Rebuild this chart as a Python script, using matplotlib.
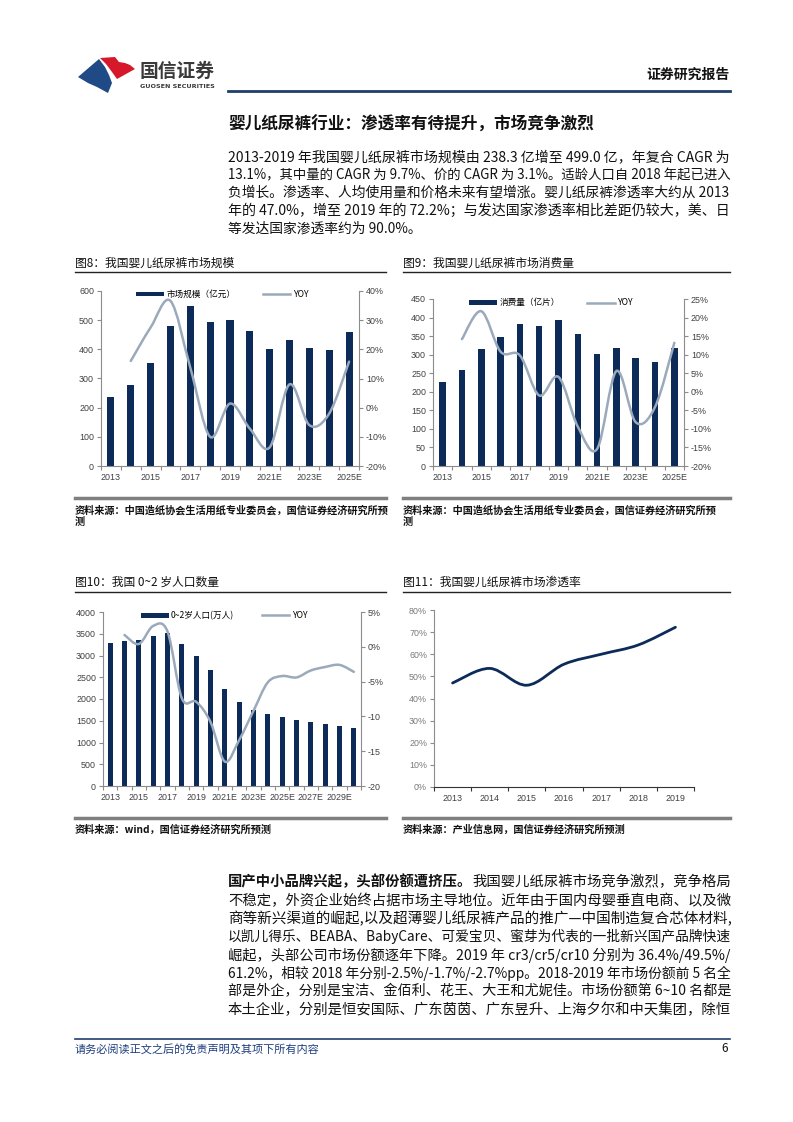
import numpy as np
import matplotlib.pyplot as plt
from matplotlib.path import Path
from matplotlib.patches import PathPatch, Polygon, Rectangle
from matplotlib.lines import Line2D

plt.rcParams['font.family'] = ['Noto Sans CJK SC', 'DejaVu Sans']

W, H = 793, 1122

# ---- data read from the page ----
years_a = ['2013', '2014', '2015', '2016', '2017', '2018', '2019', '2020',
           '2021E', '2022E', '2023E', '2024E', '2025E']
market_size = [238, 276, 352, 481, 547, 492, 499, 463, 400, 432, 406, 398, 461]
market_yoy = [16.0, 27.5, 36.6, 13.7, -10.0, 1.4, -7.2, -13.6, 8.0, -6.0, -2.0, 15.8]

consumption = [226, 258, 314, 348, 382, 378, 393, 356, 301, 318, 292, 280, 317]
consumption_yoy = [14.2, 21.7, 10.8, 9.8, -1.0, 4.0, -9.4, -15.4, 5.6, -8.2, -4.1, 13.2]

years_b = ['2013', '2014', '2015', '2016', '2017', '2018', '2019', '2020',
           '2021E', '2022E', '2023E', '2024E', '2025E', '2026E', '2027E',
           '2028E', '2029E', '2030E']
population = [3280, 3336, 3350, 3450, 3520, 3260, 3000, 2670, 2230, 1930,
              1750, 1660, 1590, 1520, 1470, 1425, 1385, 1335]
population_yoy = [1.7, 0.4, 3.0, 2.2, -7.4, -7.9, -10.8, -16.5, -13.4, -9.2,
                  -5.1, -4.2, -4.4, -3.4, -2.9, -2.6, -3.6]

years_c = ['2013', '2014', '2015', '2016', '2017', '2018', '2019']
penetration = [47.0, 53.6, 46.0, 55.5, 60.0, 64.2, 72.2]

para1 = ['2013-2019 年我国婴儿纸尿裤市场规模由 238.3 亿增至 499.0 亿，年复合 CAGR 为',
         '13.1%，其中量的 CAGR 为 9.7%、价的 CAGR 为 3.1%。适龄人口自 2018 年起已进入',
         '负增长。渗透率、人均使用量和价格未来有望增涨。婴儿纸尿裤渗透率大约从 2013',
         '年的 47.0%，增至 2019 年的 72.2%；与发达国家渗透率相比差距仍较大，美、日',
         '等发达国家渗透率约为 90.0%。']
para2_lead = '国产中小品牌兴起，头部份额遭挤压。'
para2 = ['我国婴儿纸尿裤市场竞争激烈，竞争格局',
         '不稳定，外资企业始终占据市场主导地位。近年由于国内母婴垂直电商、以及微',
         '商等新兴渠道的崛起,以及超薄婴儿纸尿裤产品的推广—中国制造复合芯体材料,',
         '以凯儿得乐、BEABA、BabyCare、可爱宝贝、蜜芽为代表的一批新兴国产品牌快速',
         '崛起，头部公司市场份额逐年下降。2019 年 cr3/cr5/cr10 分别为 36.4%/49.5%/',
         '61.2%，相较 2018 年分别-2.5%/-1.7%/-2.7%pp。2018-2019 年市场份额前 5 名全',
         '部是外企，分别是宝洁、金佰利、花王、大王和尤妮佳。市场份额第 6~10 名都是',
         '本土企业，分别是恒安国际、广东茵茵、广东昱升、上海夕尔和中天集团，除恒']

NAVY = '#0c2b58'
LINE = '#9aaabb'
GRAY = '#8c8c8c'
TXT = '#404040'
TICK_FONT = 'Liberation Sans'
BODY = 9.9
TEXT_L, TEXT_R = 228, 730

fig = plt.figure(figsize=(W / 100, H / 100), dpi=100)
renderer = fig.canvas.get_renderer()


def box(x0, y0, x1, y1):
    return [x0 / W, 1 - y1 / H, (x1 - x0) / W, (y1 - y0) / H]


def ftext(x, y, s, **kw):
    kw.setdefault('va', 'center')
    return fig.text(x / W, 1 - y / H, s, **kw)


def hline(x0, x1, y, color, lw):
    fig.add_artist(Line2D([x0 / W, x1 / W], [1 - y / H, 1 - y / H], color=color, lw=lw))


def poly(pts, color):
    fig.add_artist(Polygon([(x / W, 1 - y / H) for x, y in pts], closed=True,
                           fc=color, ec='none', transform=fig.transFigure))


def body_line(y, parts, justify):
    # parts: list of (text, weight); justified lines get a size that fills the column
    texts = []
    x = TEXT_L
    for s, wt in parts:
        t = ftext(x, y, s, fontsize=BODY, weight=wt, color='#111111')
        x = t.get_window_extent(renderer).x1
        texts.append(t)
    if justify:
        k = (TEXT_R - TEXT_L) / (x - TEXT_L)
        x = TEXT_L
        for t in texts:
            t.set_fontsize(BODY * k)
            t.set_x(x / W)
            x = t.get_window_extent(renderer).x1


def smooth(xs, ys, t=1 / 6):
    # excel-like smoothed line: bezier segments through the data points
    verts = [(xs[0], ys[0])]
    codes = [Path.MOVETO]
    n = len(xs)
    for i in range(n - 1):
        p0 = (xs[max(i - 1, 0)], ys[max(i - 1, 0)])
        p1 = (xs[i], ys[i])
        p2 = (xs[i + 1], ys[i + 1])
        p3 = (xs[min(i + 2, n - 1)], ys[min(i + 2, n - 1)])
        c1 = (p1[0] + (p2[0] - p0[0]) * t, p1[1] + (p2[1] - p0[1]) * t)
        c2 = (p2[0] - (p3[0] - p1[0]) * t, p2[1] - (p3[1] - p1[1]) * t)
        verts += [c1, c2, p2]
        codes += [Path.CURVE4] * 3
    return Path(verts, codes)


def cat_axis(ax, cats, step):
    n = len(cats)
    x = np.arange(n)
    ax.set_xlim(-0.5, n - 0.5)
    ax.set_xticks(np.arange(-0.5, n, 1), [''] * (n + 1))
    ax.set_xticks(x[::step], cats[::step], minor=True)
    ax.tick_params(axis='x', which='major', length=3, color=GRAY, width=0.8)
    ax.tick_params(axis='x', which='minor', length=0, pad=5, labelsize=6.4, labelcolor=TXT)
    for lab in ax.get_xticklabels(minor=True):
        lab.set_fontfamily(TICK_FONT)
    return x


def bar_chart(rect, cats, vals, yoy, ylim, yticks, y2lim, y2ticks, y2labels,
              label, legend_x, width):
    ax = fig.add_axes(rect)
    x = cat_axis(ax, cats, 2)
    ax.bar(x, vals, width, color=NAVY, zorder=2)
    ax.set_ylim(*ylim)
    ax.set_yticks(yticks)
    ax.tick_params(axis='y', length=3, color=GRAY, width=0.8, labelsize=6.4,
                   labelcolor=TXT, pad=2)
    for lab in ax.get_yticklabels():
        lab.set_fontfamily(TICK_FONT)
    for s in ['top', 'right']:
        ax.spines[s].set_visible(False)
    for s in ['left', 'bottom']:
        ax.spines[s].set_color(GRAY)
        ax.spines[s].set_linewidth(0.8)

    ax2 = ax.twinx()
    ax2.set_xlim(ax.get_xlim())
    ax2.set_ylim(*y2lim)
    ax2.set_yticks(y2ticks, y2labels)
    ax2.tick_params(axis='y', length=3, color=GRAY, width=0.8, labelsize=6.4,
                    labelcolor=TXT, pad=2)
    for lab in ax2.get_yticklabels():
        lab.set_fontfamily(TICK_FONT)
    for s in ['top', 'left', 'bottom']:
        ax2.spines[s].set_visible(False)
    ax2.spines['right'].set_color(GRAY)
    ax2.spines['right'].set_linewidth(0.8)
    ax2.add_patch(PathPatch(smooth(x[1:], yoy), fill=False, ec=LINE, lw=1.8,
                            capstyle='round', zorder=3))

    handles = [Rectangle((0, 0), 1, 1, fc=NAVY), Line2D([], [], color=LINE, lw=1.8)]
    ax2.legend(handles, [label, 'YOY'], loc='upper center',
               bbox_to_anchor=(legend_x, 1.025), ncol=2, frameon=False,
               fontsize=6.2, handlelength=3.2, handleheight=0.5,
               columnspacing=3.2, handletextpad=0.3, borderaxespad=0)
    return ax, ax2


# ---- header ----
poly([(100, 58), (115, 57), (119, 62), (125, 63), (130, 65), (135, 69),
      (117, 79), (112, 72), (106, 64)], '#d5192b')
poly([(78, 77), (99, 59), (105, 67), (109, 75), (112, 83), (108, 93),
      (97, 87), (88, 83)], '#1f4a86')
ftext(140, 71, '国信证券', fontsize=13.5, color='#3a3a3a', weight='bold')
ftext(140, 87, 'GUOSEN SECURITIES', fontsize=4.6, color='#3a3a3a', weight='bold',
      family='DejaVu Sans')
ftext(730, 75, '证券研究报告', fontsize=10, weight='bold', ha='right', color='#111111')
hline(228, 730, 91, '#1f3f6b', 2.0)

# ---- section title and first paragraph ----
ftext(228, 125, '婴儿纸尿裤行业：渗透率有待提升，市场竞争激烈', fontsize=12, weight='bold',
      color='#111111')
for i, line in enumerate(para1):
    body_line(157 + i * 18, [(line, 'normal')], i < len(para1) - 1)

# ---- chart captions ----
ftext(75, 263, '图8：我国婴儿纸尿裤市场规模', fontsize=8.5, color='#111111')
ftext(403, 263, '图9：我国婴儿纸尿裤市场消费量', fontsize=8.5, color='#111111')
hline(75, 386, 272, '#222222', 1.0)
hline(403, 730, 272, '#222222', 1.0)
ftext(75, 582, '图10：我国 0~2 岁人口数量', fontsize=8.5, color='#111111')
ftext(403, 582, '图11：我国婴儿纸尿裤市场渗透率', fontsize=8.5, color='#111111')
hline(75, 386, 592, '#222222', 1.0)
hline(403, 730, 592, '#222222', 1.0)

# ---- chart 8 ----
bar_chart(box(101, 291, 359, 466), years_a, market_size, market_yoy,
          (0, 600), range(0, 601, 100), (-20, 40), range(-20, 41, 10),
          ['-20%', '-10%', '0%', '10%', '20%', '30%', '40%'],
          '市场规模（亿元）', 0.47, 0.36)

# ---- chart 9 ----
bar_chart(box(433, 299, 684, 466), years_a, consumption, consumption_yoy,
          (0, 450), range(0, 451, 50), (-20, 25), range(-20, 26, 5),
          ['-20%', '-15%', '-10%', '-5%', '0%', '5%', '10%', '15%', '20%', '25%'],
          '消费量（亿片）', 0.47, 0.34)

# ---- chart 10 ----
bar_chart(box(103, 612, 361, 786), years_b, population, population_yoy,
          (0, 4000), range(0, 4001, 500), (-20, 5), range(-20, 6, 5),
          ['-20', '-15', '-10', '-5%', '0%', '5%'],
          '0~2岁人口(万人)', 0.47, 0.33)

# ---- chart 11 ----
ax4 = fig.add_axes(box(434, 610, 694, 787))
x4 = cat_axis(ax4, years_c, 1)
ax4.tick_params(axis='x', which='major', color='#333333')
ax4.add_patch(PathPatch(smooth(x4, penetration), fill=False, ec=NAVY, lw=2.0,
                        capstyle='round'))
ax4.set_ylim(0, 80)
ax4.set_yticks(range(0, 81, 10), [f'{v}%' for v in range(0, 81, 10)])
ax4.tick_params(axis='y', length=3, color=GRAY, width=0.8, labelsize=6.4,
                labelcolor='#7a7a7a', pad=2)
for lab in ax4.get_yticklabels():
    lab.set_fontfamily(TICK_FONT)
for s in ['top', 'right']:
    ax4.spines[s].set_visible(False)
ax4.spines['left'].set_color(GRAY)
ax4.spines['left'].set_linewidth(0.8)
ax4.spines['bottom'].set_color('#333333')
ax4.spines['bottom'].set_linewidth(0.8)

# ---- sources ----
for x0, x1, y in [(75, 386, 498), (403, 730, 498), (75, 386, 818), (403, 730, 818)]:
    hline(x0, x1, y, '#7f7f7f', 2.5)
src_kw = dict(fontsize=7.3, color='#111111', weight='bold')
ftext(75, 510, '资料来源：中国造纸协会生活用纸专业委员会，国信证券经济研究所预', **src_kw)
ftext(75, 522, '测', **src_kw)
ftext(403, 510, '资料来源：中国造纸协会生活用纸专业委员会，国信证券经济研究所预', **src_kw)
ftext(403, 522, '测', **src_kw)
ftext(75, 830, '资料来源：wind，国信证券经济研究所预测', **src_kw)
ftext(403, 830, '资料来源：产业信息网，国信证券经济研究所预测', **src_kw)

# ---- second paragraph ----
body_line(882, [(para2_lead, 'bold'), (para2[0], 'normal')], True)
for i, line in enumerate(para2[1:]):
    body_line(900.5 + i * 18.2, [(line, 'normal')], True)

# ---- footer ----
hline(75, 730, 1039, '#1f3f6b', 1.2)
ftext(75, 1049, '请务必阅读正文之后的免责声明及其项下所有内容', fontsize=8, color='#1f3f7f')
ftext(728, 1049, '6', fontsize=8.5, ha='right', color='#111111')

fig.savefig('out.png', dpi=100)
plt.close(fig)
